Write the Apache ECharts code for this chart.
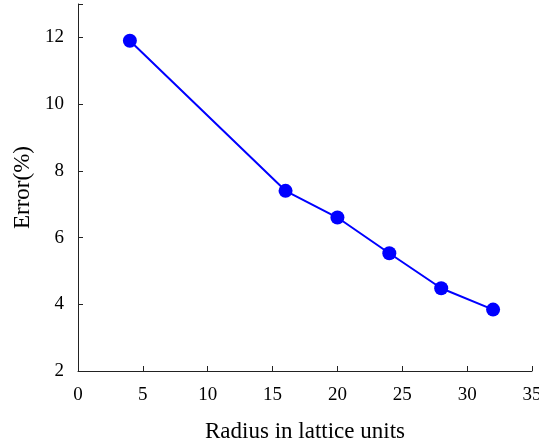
<!DOCTYPE html>
<html>
<head>
<meta charset="utf-8">
<script src="https://cdn.jsdelivr.net/npm/echarts@6/dist/echarts.min.js"></script>
<style>html,body{margin:0;padding:0;background:#fff}#c{width:539px;height:444px}</style>
</head>
<body>
<div id="c"></div>
<script>
const radius = [4, 16, 20, 24, 28, 32];
const errorPct = [11.9, 7.4, 6.6, 5.53, 4.48, 3.84];
const xTicks = [0, 5, 10, 15, 20, 25, 30, 35];
const yTicks = [2, 4, 6, 8, 10, 12];

const font = 'Liberation Serif, Times New Roman, serif';
const chart = echarts.init(document.getElementById('c'), null, {renderer: 'canvas'});
chart.setOption({
  animation: false,
  grid: {left: 78, right: 7, top: 4, bottom: 73, containLabel: false, outerBoundsMode: 'none'},
  xAxis: {
    type: 'value', min: 0, max: 35, interval: 5,
    name: 'Radius in lattice units', nameLocation: 'middle', nameGap: 49,
    nameTextStyle: {fontFamily: font, fontSize: 23, color: '#000'},
    axisLine: {show: true, lineStyle: {color: '#222', width: 1}},
    axisTick: {show: true, inside: true, length: 5, lineStyle: {color: '#222'}},
    axisLabel: {fontFamily: font, fontSize: 19, color: '#000', margin: 15,
      formatter: v => xTicks.includes(v) ? String(v) : ''},
    splitLine: {show: false}
  },
  yAxis: {
    type: 'value', min: 2, max: 13, interval: 2,
    name: 'Error(%)', nameLocation: 'middle', nameGap: 44,
    nameTextStyle: {fontFamily: font, fontSize: 23, color: '#000'},
    axisLine: {show: true, lineStyle: {color: '#222', width: 1}},
    axisTick: {show: true, inside: true, length: 5, lineStyle: {color: '#222'}},
    axisLabel: {fontFamily: font, fontSize: 19, color: '#000', margin: 14,
      formatter: v => yTicks.includes(v) ? String(v) : ''},
    splitLine: {show: false}
  },
  series: [{
    type: 'line',
    data: radius.map((r, i) => [r, errorPct[i]]),
    symbol: 'circle', symbolSize: 14,
    lineStyle: {color: '#0000ff', width: 2},
    itemStyle: {color: '#0000ff'}
  }]
});
</script>
</body>
</html>
